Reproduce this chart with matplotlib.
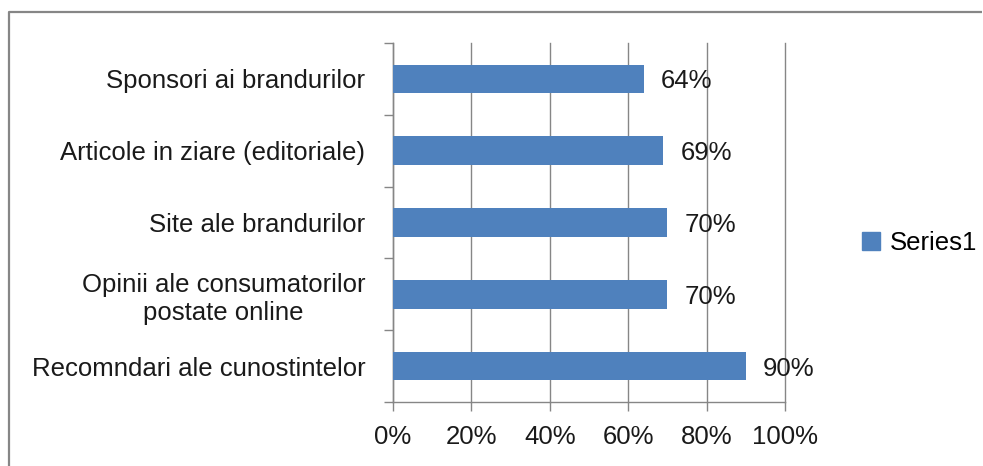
import matplotlib.pyplot as plt
from matplotlib.patches import Patch
from matplotlib.lines import Line2D
from matplotlib.ticker import FixedLocator

# Données du graphique (de bas en haut)
categories = ["Recomndari ale cunostintelor",
              "Opinii ale consumatorilor\npostate online",
              "Site ale brandurilor",
              "Articole in ziare (editoriale)",
              "Sponsori ai brandurilor"]
valeurs = [90, 70, 70, 69, 64]
etiquettes = ["90%", "70%", "70%", "69%", "64%"]
graduations = [0, 20, 40, 60, 80, 100]
legende = "Series1"

plt.rcParams['font.family'] = ['Liberation Sans', 'DejaVu Sans']
taille = 18.5
bleu = '#4F81BD'
gris = '#868686'
texte = '#1a1a1a'

fig = plt.figure(figsize=(9.83, 4.66), dpi=100)
ax = fig.add_axes([393 / 983, 1 - 402 / 466, 392 / 983, 359 / 466])

y = range(len(categories))
ax.barh(y, valeurs, height=0.4, color=bleu, zorder=3)

for i, v in enumerate(valeurs):
    ax.text(v + 4.4, i, etiquettes[i], va='center_baseline', ha='left', fontsize=taille, color=texte, zorder=4)

ax.set_xlim(0, 100)
ax.set_ylim(-0.5, len(categories) - 0.5)
ax.set_xticks(graduations)
ax.set_xticklabels([f"{g}%" for g in graduations], fontsize=taille, color=texte)
ax.set_yticks(list(y))
ax.set_yticklabels(categories, fontsize=taille, color=texte)
for lab in ax.get_yticklabels():
    lab.set_multialignment('center')
ax.yaxis.set_minor_locator(FixedLocator([i - 0.5 for i in range(len(categories) + 1)]))

ax.tick_params(axis='y', which='major', length=0, pad=20)
ax.tick_params(axis='y', which='minor', length=6.5, width=1, color=gris)
ax.tick_params(axis='x', which='major', length=6.5, width=1, color=gris, pad=10)

ax.grid(axis='x', color=gris, linewidth=1, zorder=0)
for line in ax.get_xgridlines():
    line.set_clip_on(False)
for s in ['top', 'right']:
    ax.spines[s].set_visible(False)
for s in ['left', 'bottom']:
    ax.spines[s].set_color(gris)
    ax.spines[s].set_linewidth(1)

fig.legend(handles=[Patch(color=bleu, label=legende)], loc='center left',
           bbox_to_anchor=(862 / 983, 1 - 243 / 466), frameon=False,
           borderaxespad=0, borderpad=0,
           fontsize=taille, handlelength=0.7, handleheight=0.7, handletextpad=0.4)

# Cadre autour du graphique (seulement les bords gauche et haut sont visibles)
x0 = 9 / 983
y1 = 1 - 12 / 466
fig.add_artist(Line2D([x0, x0, 0.999], [0.0, y1, y1], transform=fig.transFigure,
                      color=gris, linewidth=1.6, solid_capstyle='butt'))

fig.savefig('out.png', dpi=100)
